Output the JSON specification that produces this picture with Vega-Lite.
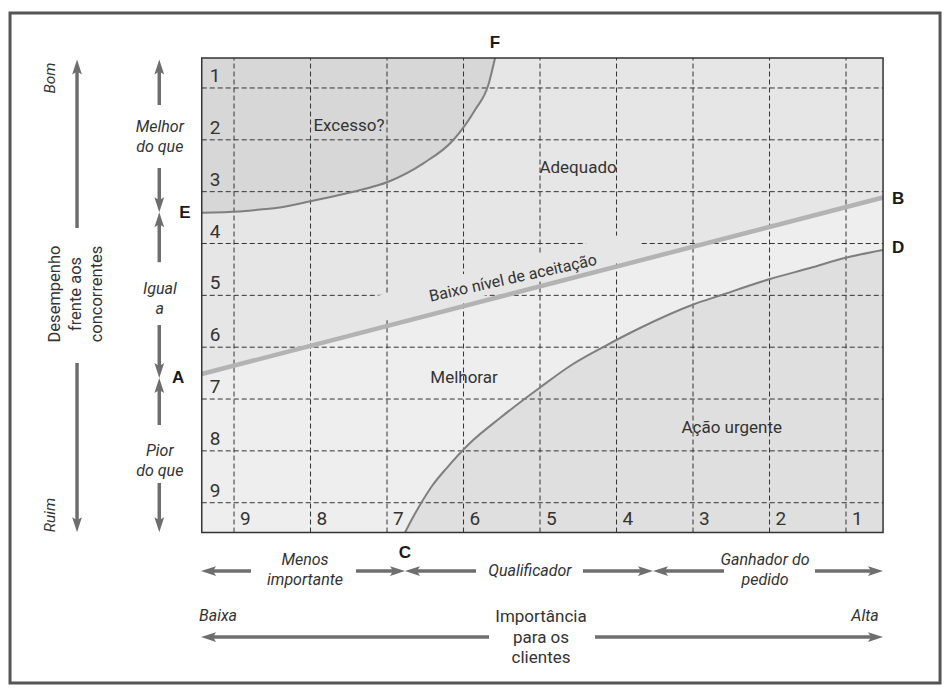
{
  "$schema": "https://vega.github.io/schema/vega-lite/v6.json",
  "width": 948,
  "height": 688,
  "autosize": {"type": "fit", "contains": "padding"},
  "padding": 0,
  "background": "white",
  "config": {"view": {"stroke": null}, "text": {"font": "Roboto", "color": "#333333"}},
  "data": {"values": [{}]},
  "datasets": {
    "ef": [
      {"u": -0.422, "v": 5.594}, {"u": 0.078, "v": 5.617}, {"u": 0.340, "v": 5.656}, {"u": 0.601, "v": 5.694},
      {"u": 1.016, "v": 5.820}, {"u": 1.559, "v": 5.999}, {"u": 2.017, "v": 6.192}, {"u": 2.475, "v": 6.547},
      {"u": 2.867, "v": 6.997}, {"u": 3.150, "v": 7.575}, {"u": 3.324, "v": 8.057}, {"u": 3.412, "v": 8.578}
    ],
    "ab": [{"u": -0.422, "v": 2.483}, {"u": 8.484, "v": 5.887}],
    "cd": [
      {"u": 2.235, "v": -0.575}, {"u": 2.327, "v": -0.314}, {"u": 2.431, "v": -0.044}, {"u": 2.588, "v": 0.322},
      {"u": 2.780, "v": 0.669}, {"u": 3.085, "v": 1.152}, {"u": 3.477, "v": 1.634}, {"u": 4.000, "v": 2.222},
      {"u": 4.392, "v": 2.637}, {"u": 4.827, "v": 3.003}, {"u": 5.307, "v": 3.370}, {"u": 6.004, "v": 3.823},
      {"u": 6.353, "v": 3.997}, {"u": 7.007, "v": 4.315}, {"u": 7.529, "v": 4.527}, {"u": 8.009, "v": 4.730},
      {"u": 8.484, "v": 4.875}
    ],
    "grid": [{"k": 0}, {"k": 1}, {"k": 2}, {"k": 3}, {"k": 4}, {"k": 5}, {"k": 6}, {"k": 7}, {"k": 8}],
    "rowlab": [
      {"lab": "1", "k": 8}, {"lab": "2", "k": 7}, {"lab": "3", "k": 6}, {"lab": "4", "k": 5}, {"lab": "5", "k": 4},
      {"lab": "6", "k": 3}, {"lab": "7", "k": 2}, {"lab": "8", "k": 1}, {"lab": "9", "k": 0}
    ],
    "collab": [
      {"lab": "9", "k": 0}, {"lab": "8", "k": 1}, {"lab": "7", "k": 2}, {"lab": "6", "k": 3}, {"lab": "5", "k": 4},
      {"lab": "4", "k": 5}, {"lab": "3", "k": 6}, {"lab": "2", "k": 7}, {"lab": "1", "k": 8}
    ],
    "regions": [
      {"t": "Excesso?", "u": 1.503, "v": 7.267},
      {"t": "Adequado", "u": 4.497, "v": 6.451},
      {"t": "Melhorar", "u": 3.007, "v": 2.406},
      {"t": "Ação urgente", "u": 6.506, "v": 1.435}
    ],
    "tilted": [{"t": "Baixo nível de aceitação", "u": 3.647, "v": 4.330}],
    "pts": [
      {"t": "F", "u": 3.412, "v": 8.868}, {"t": "E", "u": -0.641, "v": 5.588}, {"t": "B", "u": 8.680, "v": 5.858},
      {"t": "D", "u": 8.680, "v": 4.913}, {"t": "A", "u": -0.732, "v": 2.405}, {"t": "C", "u": 2.235, "v": -0.970}
    ],
    "vital": [{"t": "Bom", "u": -2.405, "v": 8.192}, {"t": "Ruim", "u": -2.405, "v": -0.237}],
    "vreg": [{"t": ["Desempenho", "frente aos", "concorrentes"], "u": -2.340, "v": 4.026}],
    "inotes": [
      {"t": ["Melhor", "do que"], "u": -0.97, "v": 7.247},
      {"t": ["Igual", "a"], "u": -0.97, "v": 4.114},
      {"t": ["Pior", "do que"], "u": -0.97, "v": 0.998},
      {"t": ["Menos", "importante"], "u": 0.928, "v": -1.105},
      {"t": "Qualificador", "u": 3.869, "v": -1.318},
      {"t": ["Ganhador do", "pedido"], "u": 6.941, "v": -1.105},
      {"t": "Baixa", "u": -0.209, "v": -2.186},
      {"t": "Alta", "u": 8.248, "v": -2.186}
    ],
    "rnotes": [{"t": ["Importância", "para os", "clientes"], "u": 4.013, "v": -2.205}],
    "shafts": [
      {"u": -2.052, "v": 5.30, "u2": -2.052, "v2": 8.405},
      {"u": -2.052, "v": 2.695, "u2": -2.052, "v2": -0.425},
      {"u": -0.977, "v": 7.672, "u2": -0.977, "v2": 8.405},
      {"u": -0.977, "v": 6.457, "u2": -0.977, "v2": 5.749},
      {"u": -0.977, "v": 4.639, "u2": -0.977, "v2": 5.459},
      {"u": -0.977, "v": 3.428, "u2": -0.977, "v2": 2.551},
      {"u": -0.977, "v": 1.499, "u2": -0.977, "v2": 2.261},
      {"u": -0.977, "v": 0.380, "u2": -0.977, "v2": -0.425},
      {"u": 0.222, "v": -1.318, "u2": -0.333, "v2": -1.318},
      {"u": 1.595, "v": -1.318, "u2": 2.137, "v2": -1.318},
      {"u": 3.163, "v": -1.318, "u2": 2.333, "v2": -1.318},
      {"u": 4.562, "v": -1.318, "u2": 5.379, "v2": -1.318},
      {"u": 6.405, "v": -1.318, "u2": 5.575, "v2": -1.318},
      {"u": 7.595, "v": -1.318, "u2": 8.386, "v2": -1.318},
      {"u": 3.333, "v": -2.591, "u2": -0.333, "v2": -2.591},
      {"u": 4.719, "v": -2.591, "u2": 8.386, "v2": -2.591}
    ],
    "heads": [
      {"u": -2.052, "v": 8.55, "dir": "up"}, {"u": -0.977, "v": 8.55, "dir": "up"},
      {"u": -0.977, "v": 5.604, "dir": "up"}, {"u": -0.977, "v": 2.406, "dir": "up"},
      {"u": -2.052, "v": -0.57, "dir": "down"}, {"u": -0.977, "v": 5.604, "dir": "down"},
      {"u": -0.977, "v": 2.406, "dir": "down"}, {"u": -0.977, "v": -0.57, "dir": "down"},
      {"u": -0.431, "v": -1.318, "dir": "left"}, {"u": 2.235, "v": -1.318, "dir": "left"},
      {"u": 5.477, "v": -1.318, "dir": "left"}, {"u": -0.431, "v": -2.591, "dir": "left"},
      {"u": 2.235, "v": -1.318, "dir": "right"}, {"u": 5.477, "v": -1.318, "dir": "right"},
      {"u": 8.484, "v": -1.318, "dir": "right"}, {"u": 8.484, "v": -2.591, "dir": "right"}
    ]
  },
  "layer": [
    {
      "mark": {"type": "rect", "fill": "white", "stroke": "#555555", "strokeWidth": 3},
      "encoding": {
        "x": {"datum": -2.928, "type": "quantitative", "scale": {"domain": [-3.059, 9.333], "nice": false, "zero": false}, "axis": null},
        "x2": {"datum": 9.229},
        "y": {"datum": -3.478, "type": "quantitative", "scale": {"domain": [-3.574, 9.697], "nice": false, "zero": false}, "axis": null},
        "y2": {"datum": 9.446}
      }
    },
    {
      "mark": {"type": "rect", "fill": "#e6e6e6"},
      "encoding": {
        "x": {"datum": -0.422, "type": "quantitative", "scale": {"domain": [-3.059, 9.333], "nice": false, "zero": false}, "axis": null},
        "x2": {"datum": 8.484},
        "y": {"datum": -0.575, "type": "quantitative", "scale": {"domain": [-3.574, 9.697], "nice": false, "zero": false}, "axis": null},
        "y2": {"datum": 8.578}
      }
    },
    {
      "data": {"name": "ef"},
      "mark": {"type": "area", "fill": "#d7d7d7", "interpolate": "monotone"},
      "encoding": {
        "x": {"field": "u", "type": "quantitative", "scale": {"domain": [-3.059, 9.333], "nice": false, "zero": false}, "axis": null},
        "y": {"field": "v", "type": "quantitative", "scale": {"domain": [-3.574, 9.697], "nice": false, "zero": false}, "axis": null},
        "y2": {"datum": 8.578}
      }
    },
    {
      "data": {"name": "ab"},
      "mark": {"type": "area", "fill": "#eeeeee"},
      "encoding": {
        "x": {"field": "u", "type": "quantitative", "scale": {"domain": [-3.059, 9.333], "nice": false, "zero": false}, "axis": null},
        "y": {"field": "v", "type": "quantitative", "scale": {"domain": [-3.574, 9.697], "nice": false, "zero": false}, "axis": null},
        "y2": {"datum": -0.575}
      }
    },
    {
      "data": {"name": "cd"},
      "mark": {"type": "area", "fill": "#dfdfdf", "interpolate": "monotone"},
      "encoding": {
        "x": {"field": "u", "type": "quantitative", "scale": {"domain": [-3.059, 9.333], "nice": false, "zero": false}, "axis": null},
        "y": {"field": "v", "type": "quantitative", "scale": {"domain": [-3.574, 9.697], "nice": false, "zero": false}, "axis": null},
        "y2": {"datum": -0.575}
      }
    },
    {
      "data": {"name": "grid"},
      "mark": {"type": "rule", "stroke": "#333333", "strokeWidth": 1, "strokeDash": [5, 3]},
      "encoding": {
        "x": {"field": "k", "type": "quantitative", "scale": {"domain": [-3.059, 9.333], "nice": false, "zero": false}, "axis": null},
        "y": {"datum": -0.575, "type": "quantitative", "scale": {"domain": [-3.574, 9.697], "nice": false, "zero": false}, "axis": null},
        "y2": {"datum": 8.578}
      }
    },
    {
      "data": {"name": "grid"},
      "mark": {"type": "rule", "stroke": "#333333", "strokeWidth": 1, "strokeDash": [5, 3]},
      "encoding": {
        "y": {"field": "k", "type": "quantitative", "scale": {"domain": [-3.574, 9.697], "nice": false, "zero": false}, "axis": null},
        "x": {"datum": -0.422, "type": "quantitative", "scale": {"domain": [-3.059, 9.333], "nice": false, "zero": false}, "axis": null},
        "x2": {"datum": 8.484}
      }
    },
    {
      "mark": {"type": "rule", "stroke": "#e6e6e6", "strokeWidth": 26, "strokeCap": "butt"},
      "encoding": {
        "x": {"datum": 1.882, "type": "quantitative", "scale": {"domain": [-3.059, 9.333], "nice": false, "zero": false}, "axis": null},
        "x2": {"datum": 5.307},
        "y": {"datum": 3.736, "type": "quantitative", "scale": {"domain": [-3.574, 9.697], "nice": false, "zero": false}, "axis": null},
        "y2": {"datum": 5.010}
      }
    },
    {
      "data": {"name": "ef"},
      "mark": {"type": "line", "stroke": "#7f7f7f", "strokeWidth": 2, "interpolate": "monotone"},
      "encoding": {
        "x": {"field": "u", "type": "quantitative", "scale": {"domain": [-3.059, 9.333], "nice": false, "zero": false}, "axis": null},
        "y": {"field": "v", "type": "quantitative", "scale": {"domain": [-3.574, 9.697], "nice": false, "zero": false}, "axis": null}
      }
    },
    {
      "data": {"name": "cd"},
      "mark": {"type": "line", "stroke": "#7f7f7f", "strokeWidth": 2, "interpolate": "monotone"},
      "encoding": {
        "x": {"field": "u", "type": "quantitative", "scale": {"domain": [-3.059, 9.333], "nice": false, "zero": false}, "axis": null},
        "y": {"field": "v", "type": "quantitative", "scale": {"domain": [-3.574, 9.697], "nice": false, "zero": false}, "axis": null}
      }
    },
    {
      "data": {"name": "ab"},
      "mark": {"type": "line", "stroke": "#b3b3b3", "strokeWidth": 4.5},
      "encoding": {
        "x": {"field": "u", "type": "quantitative", "scale": {"domain": [-3.059, 9.333], "nice": false, "zero": false}, "axis": null},
        "y": {"field": "v", "type": "quantitative", "scale": {"domain": [-3.574, 9.697], "nice": false, "zero": false}, "axis": null}
      }
    },
    {
      "mark": {"type": "rect", "fillOpacity": 0, "stroke": "#333333", "strokeWidth": 1.5},
      "encoding": {
        "x": {"datum": -0.422, "type": "quantitative", "scale": {"domain": [-3.059, 9.333], "nice": false, "zero": false}, "axis": null},
        "x2": {"datum": 8.484},
        "y": {"datum": -0.575, "type": "quantitative", "scale": {"domain": [-3.574, 9.697], "nice": false, "zero": false}, "axis": null},
        "y2": {"datum": 8.578}
      }
    },
    {
      "data": {"name": "rowlab"},
      "mark": {"type": "text", "fontSize": 19, "align": "center", "baseline": "alphabetic", "dx": 13.3, "dy": -6},
      "encoding": {
        "x": {"datum": -0.422, "type": "quantitative", "scale": {"domain": [-3.059, 9.333], "nice": false, "zero": false}, "axis": null},
        "y": {"field": "k", "type": "quantitative", "scale": {"domain": [-3.574, 9.697], "nice": false, "zero": false}, "axis": null},
        "text": {"field": "lab"}
      }
    },
    {
      "data": {"name": "collab"},
      "mark": {"type": "text", "fontSize": 19, "align": "left", "baseline": "alphabetic", "dx": 6, "dy": 22.5},
      "encoding": {
        "x": {"field": "k", "type": "quantitative", "scale": {"domain": [-3.059, 9.333], "nice": false, "zero": false}, "axis": null},
        "y": {"datum": 0, "type": "quantitative", "scale": {"domain": [-3.574, 9.697], "nice": false, "zero": false}, "axis": null},
        "text": {"field": "lab"}
      }
    },
    {
      "data": {"name": "regions"},
      "mark": {"type": "text", "fontSize": 17, "align": "center", "baseline": "middle"},
      "encoding": {
        "x": {"field": "u", "type": "quantitative", "scale": {"domain": [-3.059, 9.333], "nice": false, "zero": false}, "axis": null},
        "y": {"field": "v", "type": "quantitative", "scale": {"domain": [-3.574, 9.697], "nice": false, "zero": false}, "axis": null},
        "text": {"field": "t"}
      }
    },
    {
      "data": {"name": "tilted"},
      "mark": {"type": "text", "fontSize": 16, "align": "center", "baseline": "middle", "angle": -12.5},
      "encoding": {
        "x": {"field": "u", "type": "quantitative", "scale": {"domain": [-3.059, 9.333], "nice": false, "zero": false}, "axis": null},
        "y": {"field": "v", "type": "quantitative", "scale": {"domain": [-3.574, 9.697], "nice": false, "zero": false}, "axis": null},
        "text": {"field": "t"}
      }
    },
    {
      "data": {"name": "pts"},
      "mark": {"type": "text", "font": "Liberation Sans", "fontWeight": "bold", "fontSize": 17, "align": "center", "baseline": "middle", "color": "#1a1a1a"},
      "encoding": {
        "x": {"field": "u", "type": "quantitative", "scale": {"domain": [-3.059, 9.333], "nice": false, "zero": false}, "axis": null},
        "y": {"field": "v", "type": "quantitative", "scale": {"domain": [-3.574, 9.697], "nice": false, "zero": false}, "axis": null},
        "text": {"field": "t"}
      }
    },
    {
      "data": {"name": "vital"},
      "mark": {"type": "text", "fontSize": 15.5, "fontStyle": "italic", "align": "center", "baseline": "middle", "angle": -90},
      "encoding": {
        "x": {"field": "u", "type": "quantitative", "scale": {"domain": [-3.059, 9.333], "nice": false, "zero": false}, "axis": null},
        "y": {"field": "v", "type": "quantitative", "scale": {"domain": [-3.574, 9.697], "nice": false, "zero": false}, "axis": null},
        "text": {"field": "t"}
      }
    },
    {
      "data": {"name": "vreg"},
      "mark": {"type": "text", "fontSize": 16.5, "align": "center", "baseline": "middle", "angle": -90, "lineHeight": 21},
      "encoding": {
        "x": {"field": "u", "type": "quantitative", "scale": {"domain": [-3.059, 9.333], "nice": false, "zero": false}, "axis": null},
        "y": {"field": "v", "type": "quantitative", "scale": {"domain": [-3.574, 9.697], "nice": false, "zero": false}, "axis": null},
        "text": {"field": "t"}
      }
    },
    {
      "data": {"name": "inotes"},
      "mark": {"type": "text", "fontSize": 16, "fontStyle": "italic", "align": "center", "baseline": "middle", "lineHeight": 20},
      "encoding": {
        "x": {"field": "u", "type": "quantitative", "scale": {"domain": [-3.059, 9.333], "nice": false, "zero": false}, "axis": null},
        "y": {"field": "v", "type": "quantitative", "scale": {"domain": [-3.574, 9.697], "nice": false, "zero": false}, "axis": null},
        "text": {"field": "t"}
      }
    },
    {
      "data": {"name": "rnotes"},
      "mark": {"type": "text", "fontSize": 17, "align": "center", "baseline": "middle", "lineHeight": 20.5},
      "encoding": {
        "x": {"field": "u", "type": "quantitative", "scale": {"domain": [-3.059, 9.333], "nice": false, "zero": false}, "axis": null},
        "y": {"field": "v", "type": "quantitative", "scale": {"domain": [-3.574, 9.697], "nice": false, "zero": false}, "axis": null},
        "text": {"field": "t"}
      }
    },
    {
      "data": {"name": "shafts"},
      "mark": {"type": "rule", "stroke": "#6e6e6e", "strokeWidth": 3.5, "strokeCap": "butt"},
      "encoding": {
        "x": {"field": "u", "type": "quantitative", "scale": {"domain": [-3.059, 9.333], "nice": false, "zero": false}, "axis": null},
        "y": {"field": "v", "type": "quantitative", "scale": {"domain": [-3.574, 9.697], "nice": false, "zero": false}, "axis": null},
        "x2": {"field": "u2"},
        "y2": {"field": "v2"}
      }
    },
    {
      "data": {"name": "heads"},
      "transform": [{"filter": "datum.dir === 'up'"}],
      "mark": {"type": "point", "shape": "M0,-1L0.65,1L0,0.6L-0.65,1Z", "filled": true, "size": 225, "opacity": 1, "color": "#6e6e6e", "strokeWidth": 0, "angle": 0, "yOffset": 7.5},
      "encoding": {
        "x": {"field": "u", "type": "quantitative", "scale": {"domain": [-3.059, 9.333], "nice": false, "zero": false}, "axis": null},
        "y": {"field": "v", "type": "quantitative", "scale": {"domain": [-3.574, 9.697], "nice": false, "zero": false}, "axis": null}
      }
    },
    {
      "data": {"name": "heads"},
      "transform": [{"filter": "datum.dir === 'down'"}],
      "mark": {"type": "point", "shape": "M0,-1L0.65,1L0,0.6L-0.65,1Z", "filled": true, "size": 225, "opacity": 1, "color": "#6e6e6e", "strokeWidth": 0, "angle": 180, "yOffset": -7.5},
      "encoding": {
        "x": {"field": "u", "type": "quantitative", "scale": {"domain": [-3.059, 9.333], "nice": false, "zero": false}, "axis": null},
        "y": {"field": "v", "type": "quantitative", "scale": {"domain": [-3.574, 9.697], "nice": false, "zero": false}, "axis": null}
      }
    },
    {
      "data": {"name": "heads"},
      "transform": [{"filter": "datum.dir === 'left'"}],
      "mark": {"type": "point", "shape": "M0,-1L0.65,1L0,0.6L-0.65,1Z", "filled": true, "size": 225, "opacity": 1, "color": "#6e6e6e", "strokeWidth": 0, "angle": 270, "xOffset": 7.5},
      "encoding": {
        "x": {"field": "u", "type": "quantitative", "scale": {"domain": [-3.059, 9.333], "nice": false, "zero": false}, "axis": null},
        "y": {"field": "v", "type": "quantitative", "scale": {"domain": [-3.574, 9.697], "nice": false, "zero": false}, "axis": null}
      }
    },
    {
      "data": {"name": "heads"},
      "transform": [{"filter": "datum.dir === 'right'"}],
      "mark": {"type": "point", "shape": "M0,-1L0.65,1L0,0.6L-0.65,1Z", "filled": true, "size": 225, "opacity": 1, "color": "#6e6e6e", "strokeWidth": 0, "angle": 90, "xOffset": -7.5},
      "encoding": {
        "x": {"field": "u", "type": "quantitative", "scale": {"domain": [-3.059, 9.333], "nice": false, "zero": false}, "axis": null},
        "y": {"field": "v", "type": "quantitative", "scale": {"domain": [-3.574, 9.697], "nice": false, "zero": false}, "axis": null}
      }
    }
  ]
}
